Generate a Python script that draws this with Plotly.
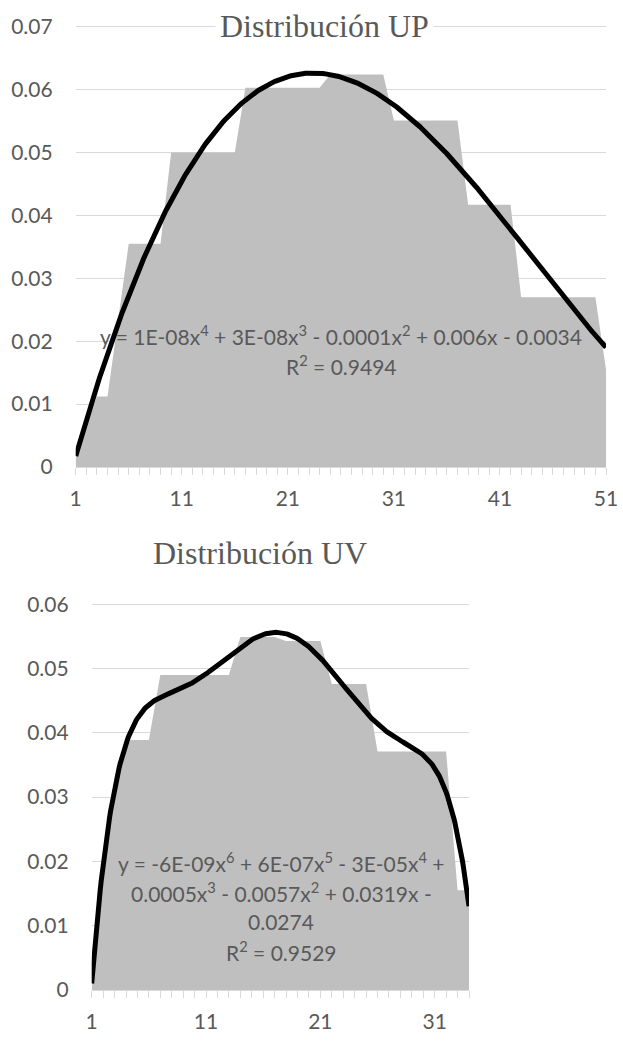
import numpy as np
import plotly.graph_objects as go

# ---------------- data ----------------
up_x = list(range(1, 52))
up_y = [0.0015, 0.0063, 0.0112, 0.0112, 0.0233,
        0.0355, 0.0355, 0.0355, 0.0355,
        0.0500, 0.0500, 0.0500, 0.0500, 0.0500, 0.0500, 0.0500,
        0.0603, 0.0603, 0.0603, 0.0603, 0.0603, 0.0603, 0.0603, 0.0603,
        0.0624, 0.0624, 0.0624, 0.0624, 0.0624, 0.0624,
        0.0551, 0.0551, 0.0551, 0.0551, 0.0551, 0.0551, 0.0551,
        0.0417, 0.0417, 0.0417, 0.0417, 0.0417,
        0.0270, 0.0270, 0.0270, 0.0270, 0.0270, 0.0270, 0.0270, 0.0270,
        0.0155]

uv_x = list(range(1, 35))
uv_y = [0.0000, 0.0210, 0.0330,
        0.0389, 0.0389, 0.0389,
        0.0490, 0.0490, 0.0490, 0.0490, 0.0490, 0.0490, 0.0490,
        0.0549, 0.0549, 0.0549, 0.0549,
        0.0543, 0.0543, 0.0543, 0.0543,
        0.0476, 0.0476, 0.0476, 0.0476,
        0.0371, 0.0371, 0.0371, 0.0371, 0.0371, 0.0371, 0.0371,
        0.0155, 0.0155]

up_title = "Distribución UP"
uv_title = "Distribución UV"
up_eq = ["y = 1E-08x<sup>4</sup> + 3E-08x<sup>3</sup> - 0.0001x<sup>2</sup> + 0.006x - 0.0034",
         "R<sup>2</sup> = 0.9494"]
uv_eq = ["y = -6E-09x<sup>6</sup> + 6E-07x<sup>5</sup> - 3E-05x<sup>4</sup> +",
         "0.0005x<sup>3</sup> - 0.0057x<sup>2</sup> + 0.0319x -",
         "0.0274",
         "R<sup>2</sup> = 0.9529"]

up_yticks = [0, 0.01, 0.02, 0.03, 0.04, 0.05, 0.06, 0.07]
up_yticktext = ["0", "0.01", "0.02", "0.03", "0.04", "0.05", "0.06", "0.07"]
uv_yticks = [0, 0.01, 0.02, 0.03, 0.04, 0.05, 0.06]
uv_yticktext = ["0", "0.01", "0.02", "0.03", "0.04", "0.05", "0.06"]

# polynomial trendlines (least squares fit of the data, as the spreadsheet does)
up_fit = np.poly1d(np.polyfit(up_x, up_y, 4))
uv_fit = np.poly1d(np.polyfit(uv_x, uv_y, 6))
up_fx = np.linspace(1, 51, 400)
uv_fx = np.linspace(1, 34, 400)

# ---------------- figure ----------------
W, H = 623, 1047
GRAY_TXT = "#595959"
GRID = "#d9d9d9"
AREA = "#bfbfbf"
SANS = "Lato"
SERIF = "Liberation Serif"


def py(p):
    return 1 - p / H


fig = go.Figure()
fig.add_trace(go.Scatter(x=up_x, y=up_y, mode="lines", fill="tozeroy",
                         fillcolor=AREA, line=dict(width=0, color=AREA),
                         xaxis="x", yaxis="y", hoverinfo="skip"))
fig.add_trace(go.Scatter(x=up_fx, y=up_fit(up_fx), mode="lines",
                         line=dict(width=5, color="black"),
                         xaxis="x", yaxis="y"))
fig.add_trace(go.Scatter(x=uv_x, y=uv_y, mode="lines", fill="tozeroy",
                         fillcolor=AREA, line=dict(width=0, color=AREA),
                         xaxis="x2", yaxis="y2", hoverinfo="skip"))
fig.add_trace(go.Scatter(x=uv_fx, y=uv_fit(uv_fx), mode="lines",
                         line=dict(width=5, color="black"),
                         xaxis="x2", yaxis="y2"))

xcommon = dict(tickmode="linear", tick0=1, dtick=10, ticks="outside", ticklen=7,
               tickcolor=GRID, showgrid=False, zeroline=False, showline=True,
               linecolor=GRID, automargin=False,
               tickfont=dict(family=SANS, size=21, color=GRAY_TXT),
               ticklabelstandoff=6,
               minor=dict(tickmode="linear", tick0=1, dtick=1, ticks="outside",
                          ticklen=7, tickcolor=GRID, showgrid=False))
ycommon = dict(tickmode="array", showgrid=True, gridcolor=GRID, gridwidth=1,
               zeroline=False, showline=False, ticks="", automargin=False,
               tickfont=dict(family=SANS, size=21, color=GRAY_TXT),
               ticklabelstandoff=22)

fig.update_layout(
    width=W, height=H, margin=dict(l=0, r=0, t=0, b=0, autoexpand=False),
    paper_bgcolor="white", plot_bgcolor="white", showlegend=False,
    xaxis=dict(domain=[75.7 / W, 606 / W], range=[1, 51], anchor="y", **xcommon),
    yaxis=dict(domain=[py(467), py(25.4)], range=[0, 0.0702], anchor="x",
               tickvals=up_yticks, ticktext=up_yticktext, **ycommon),
    xaxis2=dict(domain=[91.7 / W, 469 / W], range=[1, 34], anchor="y2", **xcommon),
    yaxis2=dict(domain=[py(990), py(603)], range=[0, 0.0602], anchor="x2",
                tickvals=uv_yticks, ticktext=uv_yticktext, **ycommon),
)

ann = []
ann.append(dict(text=up_title, x=324.7 / W, y=py(26), xref="paper", yref="paper",
                xanchor="center", yanchor="middle", showarrow=False,
                font=dict(family=SERIF, size=32, color=GRAY_TXT),
                bgcolor="white", borderpad=4))
ann.append(dict(text=uv_title, x=259.5 / W, y=py(553), xref="paper", yref="paper",
                xanchor="center", yanchor="middle", showarrow=False,
                font=dict(family=SERIF, size=32, color=GRAY_TXT)))
for i, t in enumerate(up_eq):
    ann.append(dict(text=t, x=341 / W, y=py(335 + 30 * i), xref="paper", yref="paper",
                    xanchor="center", yanchor="middle", showarrow=False,
                    font=dict(family=SANS, size=21, color=GRAY_TXT)))
for i, t in enumerate(uv_eq):
    ann.append(dict(text=t, x=281 / W, y=py(862 + 29.5 * i), xref="paper", yref="paper",
                    xanchor="center", yanchor="middle", showarrow=False,
                    font=dict(family=SANS, size=21, color=GRAY_TXT)))
fig.update_layout(annotations=ann)

fig.write_html("out.html",
               config={"displayModeBar": False},
               post_script="document.body.style.margin='0px';"
                           "document.body.style.overflow='hidden';")
